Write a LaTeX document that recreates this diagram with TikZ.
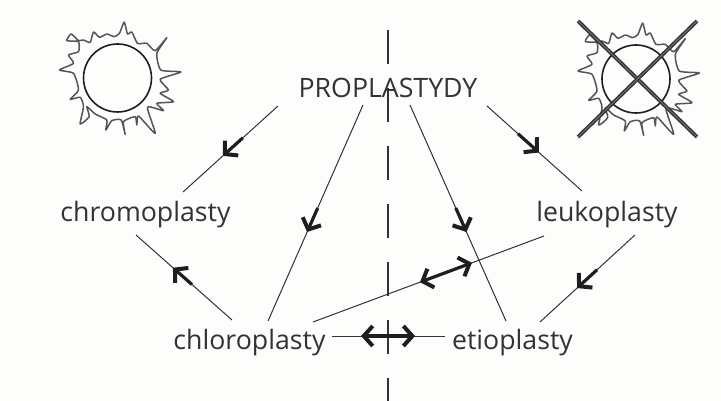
\documentclass[tikz,border=0pt]{standalone}
\usepackage{fontspec}
\setmainfont{Open Sans}
\usetikzlibrary{arrows.meta,calc}
\definecolor{ink}{HTML}{333335}
\definecolor{heavyink}{HTML}{1E1E1E}
\definecolor{rayink}{HTML}{555555}
\definecolor{paper}{HTML}{FDFDFB}
\tikzset{
  x=1pt,y=-1pt,
  label/.style={font=\fontsize{26.7}{28}\selectfont,text=ink,inner sep=0pt,text height=20pt,text depth=7.5pt},
  capslabel/.style={label,text depth=0pt},
  thinline/.style={draw=ink,line width=1pt},
  barbtip/.tip={Straight Barb[length=9pt,width=20pt,line width=4pt]},
  heavy/.style={draw=heavyink,line width=3.2pt,-barbtip},
  heavyboth/.style={draw=heavyink,line width=3.2pt,barbtip-barbtip},
  axis/.style={draw=ink,line width=1.1pt,dash pattern=on 34pt off 24pt},
  cross/.style={draw=ink,line width=1.5pt,double=paper!35!ink,double distance=0.8pt},
}
\newcommand{\sunshape}[2]{%
  \begin{scope}[shift={(#1,#2)}]
    \draw[heavyink,line width=1.6pt] (0,0) circle [radius=34];
    \begin{scope}[x=0.3333pt,y=-0.3333pt,shift={(-232,-204)}]
      \draw[rayink,line width=1.5pt,line join=round] plot[smooth cycle,tension=0.35] coordinates {
        (80,92) (92,72) (105,82) (115,92) (130,90) (150,97) (160,66) (178,82) (200,72) (222,80) (238,70) (252,36) (262,72) (275,66) (292,100) (320,100) (345,122) (380,83) (350,130) (362,180) (422,186) (360,208) (385,240) (360,250) (400,275) (350,280) (370,302) (322,292) (345,370) (295,318) (290,345) (285,320) (250,335) (255,373) (243,330) (215,332) (197,360) (200,330) (165,312) (140,290) (147,320) (120,342) (130,290) (120,262) (90,268) (115,240) (100,190) (58,180) (100,160) (85,135) (115,125) (115,95)};
    \end{scope}
  \end{scope}}
\begin{document}
\begin{tikzpicture}
\useasboundingbox[fill=paper] (0,0) rectangle (721,401);
% axis
\coordinate (axtop) at (388,30);
\coordinate (axbot) at (388,401);
\draw[axis] (axtop) -- (axbot);
% suns
\sunshape{117.5}{78}
\sunshape{636}{79}
\coordinate (xa) at (578,21); \coordinate (xb) at (697,137);
\coordinate (xc) at (697,21); \coordinate (xd) at (578,137);
\draw[cross] (xa) -- (xb);
\draw[cross] (xc) -- (xd);
% labels
\node[capslabel] (prop) at (388,88) {PROPLASTYDY};
\node[label] (chromo) at (145.5,215) {chromoplasty};
\node[label] (leuko) at (607,215) {leukoplasty};
\node[label] (chloro) at (249.5,343) {chloroplasty};
\node[label] (etio) at (512.5,343) {etioplasty};
% connector ends, relative to the nodes
\coordinate (a1) at ([shift={(-110,18)}]prop.center);
\coordinate (b1) at ([shift={(37.5,-23)}]chromo.center);
\coordinate (a2) at ([shift={(-25,17)}]prop.center);
\coordinate (b2) at ([shift={(18.5,-22)}]chloro.center);
\coordinate (a3) at ([shift={(22,17)}]prop.center);
\coordinate (b3) at ([shift={(-6.5,-22)}]etio.center);
\coordinate (a4) at ([shift={(99,18)}]prop.center);
\coordinate (b4) at ([shift={(-25,-24)}]leuko.center);
\coordinate (a5) at ([shift={(28,20)}]leuko.center);
\coordinate (b5) at ([shift={(27.5,-21)}]etio.center);
\coordinate (a6) at ([shift={(-17.5,-23)}]chloro.center);
\coordinate (b6) at ([shift={(-9.5,20)}]chromo.center);
\coordinate (a7) at ([shift={(63.5,-21)}]chloro.center);
\coordinate (b7) at ([shift={(-63,21)}]leuko.center);
\coordinate (a8) at ([shift={(82.5,-7)}]chloro.center);
\coordinate (b8) at ([shift={(-67.5,-7)}]etio.center);
% thin lines
\foreach \n in {1,...,8} \draw[thinline] (a\n) -- (b\n);
% heavy arrows
\draw[heavy] ($(a1)!0.37!(b1)$) -- ($(a1)!0.58!(b1)$);
\draw[heavy] ($(a2)!0.477!(b2)$) -- ($(a2)!0.588!(b2)$);
\draw[heavy] ($(a3)!0.477!(b3)$) -- ($(a3)!0.588!(b3)$);
\draw[heavy] ($(a4)!0.326!(b4)$) -- ($(a4)!0.547!(b4)$);
\draw[heavy] ($(a5)!0.40!(b5)$) -- ($(a5)!0.61!(b5)$);
\draw[heavy] ($(a6)!0.417!(b6)$) -- ($(a6)!0.615!(b6)$);
\draw[heavyboth] ($(a7)!0.463!(b7)$) -- ($(a7)!0.688!(b7)$);
\draw[heavyboth] ($(a8)!0.257!(b8)$) -- ($(a8)!0.735!(b8)$);
\end{tikzpicture}
\end{document}
